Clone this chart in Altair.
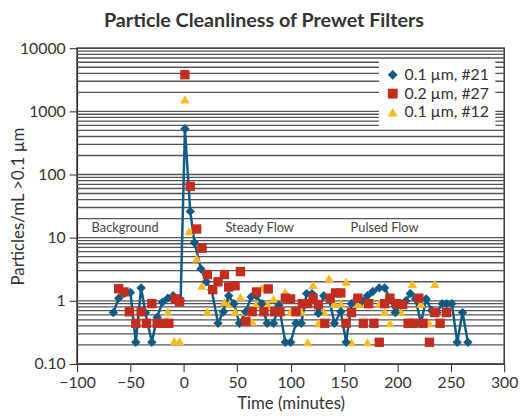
import altair as alt
import pandas as pd

S1, S2, S3 = "0.1 µm, #21", "0.2 µm, #27", "0.1 µm, #12"

blue_t = [-66,-61,-56,-50,-45,-40,-36,-30,-25,-20,-15,-10,-3,1,6,10,16,21,26,32,
          37,42,47,52,58,63,68,73,78,84,89,95,100,105,110,115,120,126,131,136,
          141,147,152,157,162,167,172,177,183,188,193,198,203,208,212,217,222,227,232,237,
          242,246,251,256,261,266]
blue_v = [0.65,1.1,1.3,1.35,0.22,1.6,0.65,0.22,0.55,0.95,1.1,1.2,1.0,530,26,8.3,3.2,2.0,1.5,0.44,
          0.67,1.2,0.9,0.44,0.67,1.15,1.2,0.9,0.44,0.44,0.85,0.22,0.22,0.44,0.44,1.3,1.3,0.63,1.2,1.1,
          0.44,0.67,0.22,0.9,1.07,1.0,1.2,1.4,1.6,1.6,1.1,0.65,0.9,1.0,1.3,1.07,0.44,1.07,0.7,0.65,
          0.9,0.9,0.9,0.22,0.65,0.22]

red_t = [-61,-56,-51,-45,-40,-35,-30,-25,-19,-14,-8,-4,1,6,12,17,22,27,32,38,
         42,48,53,58,64,68,75,79,85,90,95,100,105,111,116,121,126,132,137,142,
         147,152,157,163,168,173,178,183,188,193,199,205,210,215,220,224,230,235,240,246]
red_v = [1.55,1.38,0.67,0.44,0.67,0.44,0.9,0.44,0.44,0.44,1.07,0.96,3800,65,13.7,6.8,2.6,1.5,2.0,2.6,
         1.65,1.73,2.9,0.47,0.67,1.38,0.67,1.54,0.67,0.67,1.1,1.07,0.67,0.9,0.9,1.1,0.87,0.44,1.1,1.33,
         1.33,0.44,0.65,1.1,0.44,0.9,0.44,0.22,0.9,1.1,0.9,0.87,0.44,0.44,1.1,0.44,0.22,0.65,0.44,0.65]

yel_t = [-15,-9,-4,1,5,12,17,22,27,32,38,43,48,53,58,64,68,73,78,84,
         90,95,100,105,110,116,121,126,131,136,141,147,152,157,162,167,172,178,183,188,
         193,199,203,209,214,222,230,235]
yel_v = [0.67,0.23,0.23,1550,12.6,4.7,1.73,0.67,1.54,0.45,0.96,0.9,0.67,1.15,0.67,0.47,0.9,1.6,0.9,1.07,
         0.9,1.38,0.67,0.67,0.67,0.22,1.78,0.44,0.67,2.3,0.9,0.9,2.0,0.22,0.9,0.9,0.22,0.44,0.9,0.67,
         0.44,0.9,0.67,0.44,1.85,0.9,0.44,1.85]

labels = ["Background", "Steady Flow", "Pulsed Flow"]
label_x = [-55, 71, 188]
label_y = [14.3, 14.3, 14.3]

x_ticks = list(range(-100, 301, 50))
y_ticks = [0.1, 1, 10, 100, 1000, 10000]
grid_vals = [m * 10.0 ** k for k in range(-1, 4) for m in range(1, 10)] + [10000]

df = pd.concat([
    pd.DataFrame({"series": S1, "t": blue_t, "v": blue_v}),
    pd.DataFrame({"series": S2, "t": red_t, "v": red_v}),
    pd.DataFrame({"series": S3, "t": yel_t, "v": yel_v}),
], ignore_index=True)
df_blue = df[df.series == S1]
df_grid = pd.DataFrame({"g": grid_vals})
df_lab = pd.DataFrame({"label": labels, "x": label_x, "y": label_y})

FONT = "Lato"
yscale = alt.Scale(type="log", domain=[0.1, 10000])
xscale = alt.Scale(domain=[-100, 300], nice=False)

x_axis = alt.Axis(values=x_ticks, grid=False, tickSize=8, labelFlush=False,
                  labelFontSize=16, titleFontSize=17, titleFontWeight="normal",
                  labelColor="#333", titleColor="#333",
                  domainColor="#222", tickColor="#222", labelFont=FONT, titleFont=FONT,
                  labelPadding=3, titlePadding=5)
y_axis = alt.Axis(values=y_ticks, grid=False, tickSize=8, labelFlush=False,
                  labelExpr="datum.value == 0.1 ? '0.10' : format(datum.value, 'd')",
                  labelFontSize=16, titleFontSize=17, titleFontWeight="normal",
                  labelColor="#333", titleColor="#333",
                  domainColor="#222", tickColor="#222", labelFont=FONT, titleFont=FONT,
                  labelPadding=4, titleX=-50)
XT = "Time (minutes)"
YT = "Particles/mL >0.1 µm"


def X(field):
    return alt.X(field, scale=xscale, title=XT, axis=x_axis)


def Y(field):
    return alt.Y(field, scale=yscale, title=YT, axis=y_axis)


grid = alt.Chart(df_grid).mark_rule(color="#555", strokeWidth=1.3).encode(
    y=Y("g:Q"), x=alt.value(0), x2=alt.value(433)
)

text = alt.Chart(df_lab).mark_text(fontSize=13, color="#444", font=FONT).encode(
    x=X("x:Q"), y=Y("y:Q"), text="label:N"
)

line = alt.Chart(df_blue).mark_line(color="#0d5b86", strokeWidth=2.5).encode(x=X("t:Q"), y=Y("v:Q"))

order = [S1, S2, S3]
points = alt.Chart(df).mark_point(filled=True, opacity=1, size=90).encode(
    x=X("t:Q"),
    y=Y("v:Q"),
    color=alt.Color("series:N", scale=alt.Scale(domain=order, range=["#0d5b86", "#c32d1f", "#fbbb1e"]),
                    legend=alt.Legend(title=None, orient="none", legendX=306, legendY=13,
                                      fillColor="white", padding=6, labelFontSize=16, labelFont=FONT,
                                      labelColor="#333", symbolSize=100, rowPadding=3)),
    shape=alt.Shape("series:N", scale=alt.Scale(domain=order, range=["diamond", "square", "triangle-up"]),
                    legend=alt.Legend(title=None, orient="none", legendX=306, legendY=13)),
    order=alt.Order("series:N", sort="ascending"),
)

chart = alt.layer(grid, text, line, points).properties(
    width=433, height=320,
    title=alt.TitleParams("Particle Cleanliness of Prewet Filters", fontSize=20, font=FONT,
                          fontWeight="bold", color="#333", offset=10, dx=-27, frame="group"),
    autosize=alt.AutoSizeParams(type="none"),
    padding={"left": 70, "top": 38, "right": 15, "bottom": 48},
).configure_view(stroke="#333", strokeWidth=1.5)

chart.save("out.html", embed_options={"renderer": "svg", "actions": False})
